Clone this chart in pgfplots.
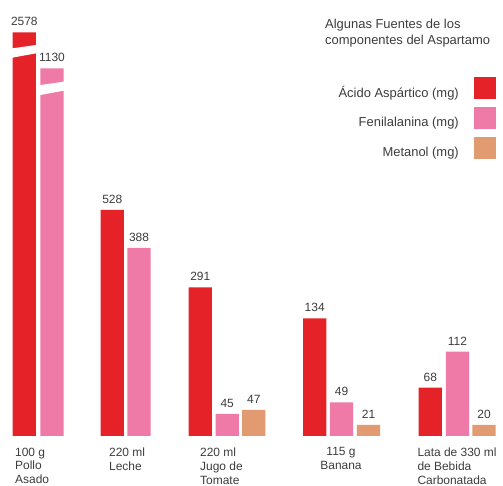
\documentclass[border=0pt]{standalone}
\usepackage{pgfplots}
\pgfplotsset{compat=1.18}
\usepackage{fontspec}
\setmainfont{Liberation Sans}
\definecolor{cred}{RGB}{228,34,39}
\definecolor{cpink}{RGB}{239,122,168}
\definecolor{corange}{RGB}{226,154,112}
\definecolor{ctext}{RGB}{60,60,60}
\begin{document}
\begin{tikzpicture}
\useasboundingbox (0,0) rectangle (503bp,486bp);
\begin{axis}[
  at={(0,0)}, anchor=south west,
  scale only axis, width=503bp, height=486bp,
  xmin=0, xmax=503, ymin=-50, ymax=436,
  axis line style={draw=none}, ytick=\empty, major tick length=0pt,
  clip=false,
  xtick={15,109,200,417.3},
  xticklabels={{100 g\\Pollo\\Asado},{220 ml\\Leche},{220 ml\\Jugo de\\Tomate},{Lata de 330 ml\\de Bebida\\Carbonatada}},
  xticklabel style={anchor=north west, align=left, inner sep=0pt, yshift=38.5bp, font=\fontsize{12}{14}\selectfont, text=ctext},
  extra x ticks={341},
  extra x tick labels={{115 g\\Banana}},
  extra x tick style={xticklabel style={anchor=north, align=center}},
  nodes near coords style={font=\fontsize{12}{14}\selectfont, text=ctext, anchor=south, inner sep=0pt, yshift=6bp},
  legend plot pos=right,
  legend cell align=right,
  legend style={draw=none, fill=none, at={(axis cs:496,358.7)}, anchor=north east, inner sep=0pt, row sep=7.7bp, column sep=15bp, font=\fontsize{13}{15}\selectfont, text=ctext, nodes={inner sep=0pt}},
  legend image code/.code={\fill[#1] (0bp,-6.5bp) rectangle (22bp,15.5bp);},
]
\addplot[ybar, bar width=23.3, bar shift=0pt, fill=cred, draw=none, nodes near coords, point meta=explicit symbolic]
  table[x=x, y=y, meta=lab] {
x y lab
24.3 403.7 2578
112.3 226 528
200.3 148.7 291
314.7 117.7 134
430.3 48.3 68
};
\addlegendentry{Ácido Aspártico (mg)}
\addplot[ybar, bar width=23.3, bar shift=0pt, fill=cpink, draw=none, nodes near coords, point meta=explicit symbolic]
  table[x=x, y=y, meta=lab] {
x y lab
52 367.7 1130
139 188 388
227.2 22 45
341.5 33.7 49
457.5 84.3 112
};
\addlegendentry{Fenilalanina (mg)}
\addplot[ybar, bar width=23.3, bar shift=0pt, fill=corange, draw=none, nodes near coords, point meta=explicit symbolic]
  table[x=x, y=y, meta=lab] {
x y lab
253.8 26 47
368.5 11 21
484 11 20
};
\addlegendentry{Metanol (mg)}
\fill[white] (axis cs:10,387.3) -- (axis cs:38,391.3) -- (axis cs:38,383) -- (axis cs:10,377.9) -- cycle;
\fill[white] (axis cs:38,350.6) -- (axis cs:66,354.7) -- (axis cs:66,345.7) -- (axis cs:38,340.6) -- cycle;
\node[anchor=north west, align=left, inner sep=0pt, font=\fontsize{13}{16.5}\selectfont, text=ctext] at (axis cs:325,417.4) {Algunas Fuentes de los\\componentes del Aspartamo};
\end{axis}
\end{tikzpicture}
\end{document}
